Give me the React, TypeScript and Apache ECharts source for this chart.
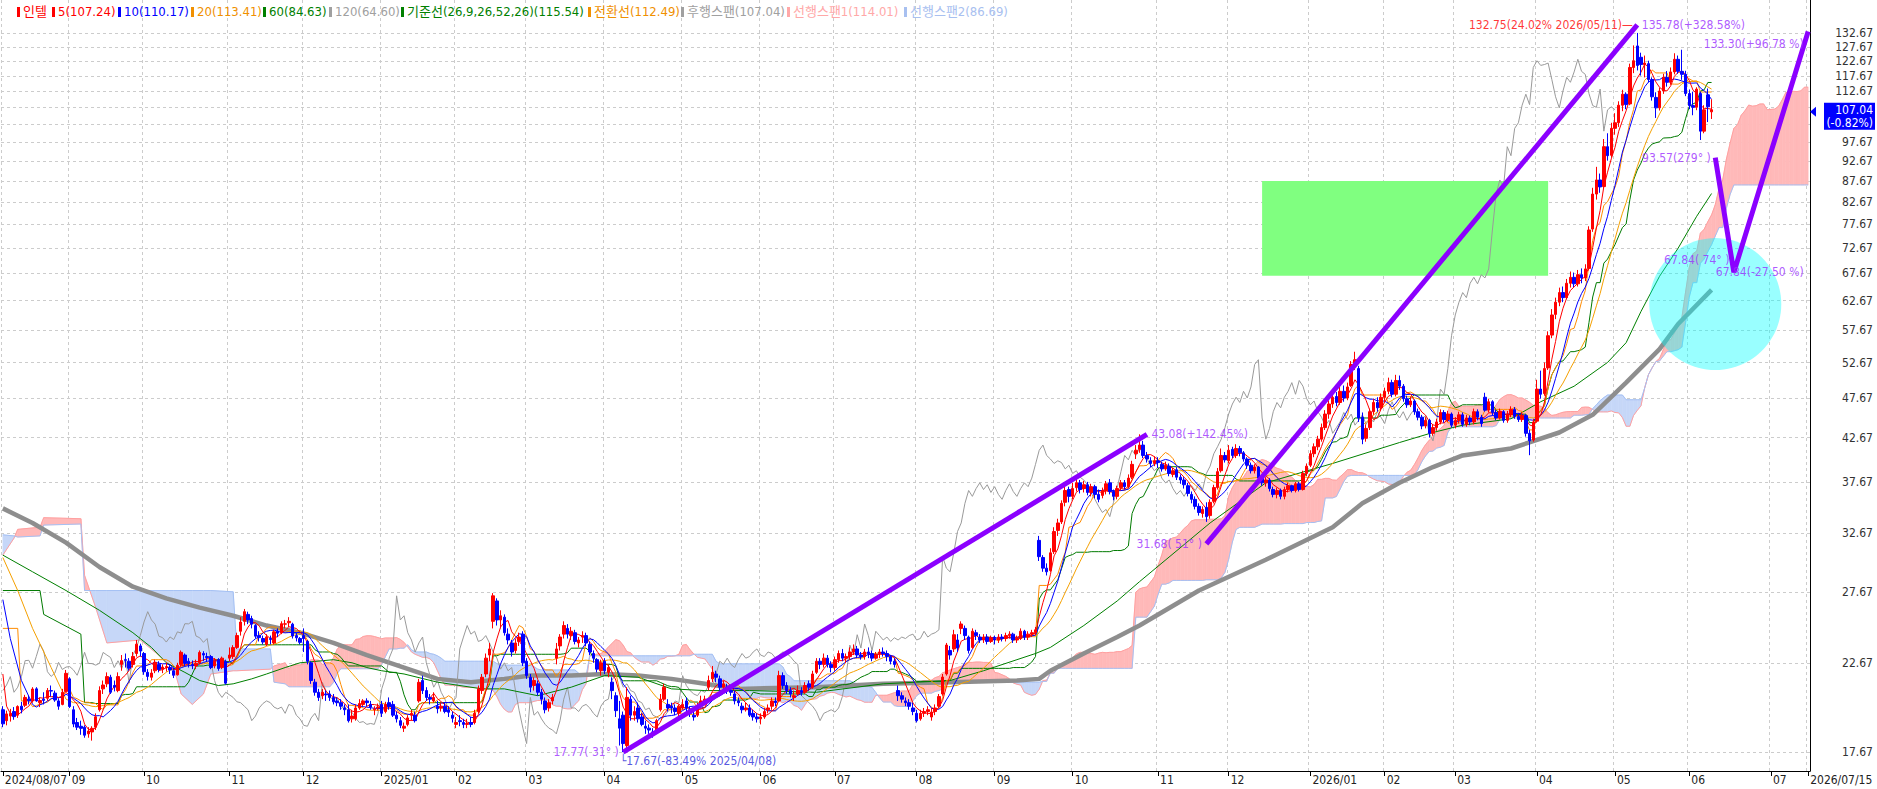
import React, { useEffect, useRef } from 'react';
import * as echarts from 'echarts';

const FONT = "'Liberation Sans Narrow', 'DejaVu Sans Condensed', 'Noto Sans CJK KR', sans-serif";

// ---------- axis / calendar ----------
const firstDate = '2024/08/07';
const lastDataDate = '2026/06/09';
const lastAxisDate = '2026/07/15';
const marketHolidays = [
  '2024/09/02', '2024/11/28', '2024/12/25', '2025/01/01', '2025/01/09', '2025/01/20', '2025/02/17',
  '2025/04/18', '2025/05/26', '2025/06/19', '2025/07/04', '2025/09/01', '2025/11/27', '2025/12/25',
  '2026/01/01', '2026/01/19', '2026/02/16', '2026/04/03', '2026/05/25',
];
// grid lines at every tick; 102.67 and 107.67 sit under the price tag, so they carry no label
const yGridValues = [17.67, 22.67, 27.67, 32.67, 37.67, 42.67, 47.67, 52.67, 57.67, 62.67, 67.67, 72.67,
  77.67, 82.67, 87.67, 92.67, 97.67, 102.67, 107.67, 112.67, 117.67, 122.67, 127.67, 132.67];
const yLabelValues = [17.67, 22.67, 27.67, 32.67, 37.67, 42.67, 47.67, 52.67, 57.67, 62.67, 67.67, 72.67,
  77.67, 82.67, 87.67, 92.67, 97.67, 112.67, 117.67, 122.67, 127.67, 132.67];

// ---------- daily candles [open, close, low, high] ----------
const aug24 = [[19.90,19.13,18.95,20.10],[19.30,19.67,19.05,19.85],[19.55,19.70,19.25,19.95],[19.80,19.52,19.35,20.05],[19.60,20.08,19.45,20.15],[20.10,19.90,19.70,20.35],[20.15,20.60,20.05,20.75],[20.50,20.41,20.20,20.70],[20.40,21.09,20.30,21.20],[21.10,20.40,20.35,21.20],[20.30,20.42,20.05,20.60],[20.50,20.43,20.20,20.90],[20.55,21.00,20.40,21.15],[21.00,20.97,20.65,21.30],[20.85,20.45,20.35,21.00],[20.40,20.10,19.90,20.55],[20.20,20.90,20.15,21.10],[20.95,22.04,20.90,22.25]];
const sep24 = [[21.70,20.08,20.00,21.80],[19.90,19.12,18.95,20.10],[19.20,18.95,18.80,19.45],[19.00,18.89,18.55,19.30],[18.95,18.53,18.40,19.05],[18.60,18.75,18.40,18.95],[18.70,18.89,18.25,19.00],[18.95,19.51,18.80,19.70],[19.90,21.00,19.80,21.25],[21.10,21.33,20.80,21.60],[21.40,21.84,21.20,22.10],[21.80,20.90,20.80,21.95],[21.30,21.20,20.95,21.60],[21.00,21.84,20.90,22.10],[22.60,22.84,22.20,23.20],[22.90,22.86,22.40,23.30],[22.80,22.36,22.20,23.00],[22.60,23.11,22.40,23.40],[23.30,23.92,23.10,24.20],[23.80,23.46,23.10,23.95]];
const oct24 = [[23.30,22.14,21.95,23.40],[22.10,21.85,21.60,22.30],[21.80,22.06,21.60,22.30],[22.20,22.73,22.05,22.90],[22.60,22.28,22.10,22.80],[22.30,22.43,22.05,22.60],[22.40,22.46,22.15,22.70],[22.40,22.25,22.00,22.55],[22.20,21.92,21.75,22.40],[21.95,22.54,21.90,22.70],[22.60,23.38,22.50,23.50],[23.20,22.66,22.50,23.30],[22.80,22.65,22.40,23.00],[22.60,22.55,22.30,22.85],[22.50,22.67,22.30,22.90],[22.70,23.37,22.60,23.50],[23.30,23.20,22.80,23.45],[23.10,23.04,22.80,23.35],[23.10,22.40,22.30,23.20],[22.50,22.83,22.35,23.00],[22.90,22.34,22.20,23.00],[22.40,23.00,22.30,23.10],[22.80,21.44,21.35,22.90]];
const nov24 = [[23.00,23.20,22.80,23.70],[23.10,23.69,22.95,23.85],[23.70,24.50,23.60,24.70],[24.80,25.45,24.50,25.80],[25.50,26.20,25.20,26.40],[26.00,25.60,25.30,26.20],[25.70,25.30,25.00,25.90],[25.20,24.46,24.30,25.30],[24.50,24.36,24.10,24.80],[24.30,24.06,23.90,24.50],[23.90,24.41,23.80,24.60],[24.30,24.23,23.90,24.50],[24.00,24.76,23.90,24.90],[24.80,24.67,24.40,25.00],[24.70,25.33,24.60,25.50],[25.30,25.32,25.00,25.60],[25.40,25.50,25.10,25.80],[25.30,24.47,24.30,25.40],[24.50,24.35,24.10,24.70],[24.30,24.04,23.90,24.40]];
const dec24 = [[24.50,24.30,23.40,25.00],[24.10,22.80,22.60,24.20],[22.70,21.60,21.40,22.80],[21.50,20.90,20.70,21.70],[20.90,20.60,20.40,21.10],[20.70,20.90,20.50,21.10],[20.80,20.75,20.40,21.00],[20.80,20.60,20.40,21.00],[20.60,20.35,20.20,20.80],[20.40,20.30,20.10,20.60],[20.30,20.10,19.90,20.50],[20.00,19.90,19.60,20.20],[19.90,19.30,19.20,20.20],[19.40,19.55,19.20,19.90],[19.40,20.00,19.30,20.20],[20.00,20.25,19.90,20.50],[20.20,20.40,20.10,20.50],[20.40,20.30,20.10,20.55],[20.20,20.05,19.90,20.40],[19.90,19.95,19.60,20.10],[20.00,20.05,19.85,20.25]];
const jan25 = [[20.20,19.70,19.50,20.40],[19.80,20.20,19.70,20.35],[20.30,20.10,19.90,20.60],[20.20,19.60,19.50,20.40],[19.60,19.40,19.20,19.80],[19.30,19.05,18.90,19.50],[18.90,19.00,18.70,19.20],[19.10,19.45,19.00,19.60],[19.60,19.70,19.30,19.90],[19.60,19.30,19.20,19.80],[20.40,21.49,20.30,21.70],[21.60,21.00,20.80,21.90],[21.00,20.60,20.40,21.20],[20.60,20.50,20.20,20.80],[20.40,20.60,20.30,20.90],[20.10,19.96,19.70,20.40],[20.00,20.10,19.80,20.30],[20.10,19.80,19.70,20.30],[19.90,19.76,19.50,20.10],[19.60,19.43,19.20,19.80]];
const feb25 = [[19.10,19.20,18.90,19.50],[19.30,19.25,19.00,19.60],[19.20,19.10,18.90,19.40],[19.10,19.15,18.90,19.40],[19.20,19.10,18.95,19.50],[19.20,19.70,19.10,19.90],[19.80,21.10,19.70,21.30],[21.00,21.80,20.80,22.00],[22.00,23.00,21.80,23.30],[23.20,23.60,22.80,24.00],[25.50,27.39,25.00,27.60],[27.00,25.60,25.20,27.20],[25.60,25.90,25.00,26.30],[25.80,24.70,24.50,26.00],[24.60,24.20,23.90,25.00],[24.00,23.40,23.10,24.20],[23.50,24.00,23.30,24.30],[24.10,24.40,23.80,24.70],[24.60,22.70,22.50,24.80]];
const mar25 = [[22.80,21.90,21.70,23.00],[21.80,21.20,20.90,22.00],[21.30,21.60,21.00,21.80],[21.40,20.90,20.70,21.60],[20.90,20.50,20.20,21.10],[20.40,19.90,19.70,20.60],[20.00,20.30,19.80,20.50],[20.40,20.60,20.20,20.80],[23.00,23.60,22.60,24.00],[23.80,24.40,23.50,24.60],[24.60,25.20,24.30,25.50],[25.00,24.60,24.30,25.30],[24.50,24.80,24.20,25.10],[24.70,24.10,23.90,24.90],[24.00,24.20,23.70,24.40],[24.40,24.50,24.00,24.80],[24.50,24.00,23.80,24.70],[23.90,23.40,23.20,24.10],[23.30,23.00,22.70,23.50],[22.90,22.30,22.10,23.00],[22.20,22.70,21.90,22.90]];
const apr25 = [[22.80,22.20,22.00,23.00],[22.10,22.40,21.80,22.60],[21.50,21.00,20.50,21.80],[20.70,19.85,19.50,20.90],[19.40,18.90,18.00,20.40],[19.60,18.10,17.67,19.80],[18.00,20.60,17.80,21.20],[20.50,19.60,19.30,20.70],[19.60,19.80,19.30,20.10],[20.00,19.40,19.20,20.30],[19.50,19.10,19.00,19.70],[19.00,18.90,18.60,19.30],[18.90,18.80,18.60,19.10],[18.70,18.60,18.40,18.90],[18.70,19.30,18.60,19.40],[19.90,20.50,19.80,20.80],[20.50,21.20,20.40,21.40],[20.20,20.00,19.80,20.50],[20.10,20.00,19.70,20.30],[20.00,19.80,19.60,20.20],[19.70,20.10,19.50,20.20]];
const may25 = [[20.00,20.20,19.90,20.50],[20.40,20.00,19.80,20.60],[19.90,19.70,19.50,20.10],[19.60,19.50,19.30,19.80],[19.60,20.10,19.50,20.30],[20.20,20.40,20.00,20.70],[20.40,20.50,20.20,20.70],[21.20,21.60,21.00,21.90],[21.70,22.10,21.50,22.50],[22.00,21.80,21.50,22.20],[21.70,21.20,21.00,21.90],[21.20,21.40,21.00,21.60],[21.20,21.00,20.80,21.40],[21.00,20.90,20.70,21.20],[20.80,20.40,20.20,21.00],[20.40,20.30,20.10,20.60],[20.10,19.90,19.70,20.30],[19.90,20.00,19.80,20.30],[20.00,19.60,19.50,20.20],[19.70,19.50,19.30,19.90],[19.50,19.40,19.20,19.70]];
const jun25 = [[19.40,19.50,19.10,19.70],[19.50,19.80,19.40,20.00],[19.90,20.00,19.70,20.20],[20.10,20.40,19.90,20.60],[20.40,20.30,20.10,20.60],[20.40,21.90,20.40,22.20],[21.90,21.30,21.10,22.10],[21.30,21.00,20.80,21.50],[21.00,20.80,20.60,21.20],[20.60,20.70,20.40,21.00],[20.80,21.00,20.70,21.30],[21.00,20.90,20.70,21.20],[20.90,21.30,20.80,21.50],[21.40,21.20,21.00,21.60],[21.20,22.00,21.10,22.20],[22.10,22.80,22.00,23.00],[22.80,22.60,22.30,23.00],[22.60,23.00,22.40,23.30],[23.00,22.60,22.40,23.20],[22.60,22.40,22.10,22.80]];
const jul25 = [[22.40,22.90,22.20,23.10],[22.90,23.30,22.70,23.50],[23.30,23.00,22.80,23.60],[23.00,23.10,22.70,23.30],[23.10,23.40,22.90,23.70],[23.40,23.60,23.20,23.90],[23.60,23.20,23.00,23.80],[23.20,23.10,22.90,23.40],[23.10,23.40,22.90,23.60],[23.40,23.30,23.00,23.70],[23.30,23.00,22.80,23.50],[23.00,23.20,22.90,23.40],[23.30,23.40,23.00,23.60],[23.40,23.30,23.10,23.70],[23.30,23.10,22.80,23.50],[23.10,22.80,22.60,23.20],[22.80,22.60,22.40,23.00],[21.00,20.70,20.40,21.30],[20.70,20.50,20.30,20.90],[20.40,20.30,20.10,20.60],[20.30,20.10,19.90,20.50],[20.00,19.80,19.60,20.30]];
const aug25 = [[19.70,19.30,19.20,19.90],[19.40,19.70,19.30,19.90],[19.70,19.80,19.50,20.00],[19.80,19.90,19.60,20.10],[19.50,19.77,19.30,20.00],[19.80,20.00,19.60,20.20],[20.10,20.65,20.00,20.80],[20.80,21.81,20.70,22.00],[22.00,23.86,21.90,24.00],[23.50,23.20,22.90,23.80],[23.60,24.56,23.40,24.90],[24.20,23.66,23.40,24.60],[25.00,25.31,24.60,25.50],[25.00,24.50,24.20,25.20],[24.40,23.50,23.30,24.50],[23.70,24.80,23.60,25.00],[24.70,24.50,24.20,24.90],[24.40,24.20,24.00,24.60],[24.20,24.40,24.00,24.60],[24.40,24.10,23.90,24.60],[24.10,24.35,24.00,24.50]];
const sep25 = [[24.30,24.20,23.90,24.50],[24.20,24.40,24.00,24.60],[24.40,24.30,24.10,24.60],[24.30,24.50,24.10,24.70],[24.50,24.60,24.30,24.80],[24.60,24.20,24.00,24.70],[24.20,24.30,24.00,24.50],[24.30,24.80,24.20,25.00],[24.80,24.40,24.20,24.90],[24.40,24.60,24.20,24.80],[24.60,24.70,24.40,24.90],[24.70,24.90,24.50,25.10],[32.00,30.57,30.20,32.40],[30.50,29.60,29.30,30.70],[29.60,29.30,29.00,30.00],[29.40,30.90,29.30,31.30],[31.00,32.80,30.80,33.20],[32.90,33.60,32.40,34.00],[33.70,35.50,33.50,35.80],[35.60,36.80,35.20,37.40],[36.90,36.20,35.60,37.20]];
const oct25 = [[36.20,37.00,35.90,37.60],[37.10,37.60,36.70,38.00],[37.60,36.90,36.50,37.90],[37.00,37.40,36.60,37.80],[37.40,36.60,36.30,37.70],[36.60,37.20,36.20,37.50],[37.20,36.40,36.00,37.40],[36.40,35.90,35.60,36.90],[36.30,36.80,36.00,37.10],[36.80,37.50,36.40,37.80],[37.60,36.70,36.40,38.00],[36.70,36.20,35.80,36.90],[36.20,37.00,35.90,37.30],[37.10,37.60,36.80,37.90],[37.60,37.20,36.90,37.90],[37.20,38.10,37.00,38.50],[38.20,39.60,38.00,40.00],[40.80,41.20,40.20,41.80],[41.30,41.80,40.90,43.08],[41.80,40.60,40.30,42.30],[40.60,40.20,39.80,41.00],[40.00,39.70,39.30,40.40],[39.70,40.00,39.40,40.50]];
const nov25 = [[40.00,39.80,39.20,40.40],[39.60,39.10,38.80,39.90],[39.10,39.50,38.90,39.90],[39.40,38.60,38.30,39.70],[38.50,38.90,38.20,39.20],[39.00,38.20,37.90,39.30],[38.20,37.90,37.50,38.50],[37.90,37.40,37.00,38.20],[37.30,36.50,36.20,37.60],[36.40,35.90,35.50,36.70],[35.90,35.20,34.90,36.20],[35.20,34.60,34.30,35.50],[34.50,34.90,34.10,35.20],[35.10,34.20,33.70,35.60],[34.30,35.60,34.00,35.90],[35.70,37.10,35.50,37.40],[37.10,38.80,36.90,39.20],[38.90,40.60,38.70,41.40],[40.60,40.10,39.80,41.00]];
const dec25 = [[40.00,41.20,39.70,41.80],[41.30,40.60,40.30,41.60],[40.60,41.40,40.30,41.90],[41.40,40.90,40.50,41.70],[40.90,40.20,39.90,41.10],[40.20,39.50,39.10,40.40],[39.50,38.90,38.60,39.80],[38.90,39.30,38.60,39.60],[39.30,38.10,37.80,39.40],[38.10,37.60,37.30,38.40],[37.60,37.90,37.20,38.20],[37.90,37.00,36.70,38.10],[36.90,36.40,36.10,37.20],[36.40,36.80,36.00,37.10],[36.80,36.20,35.90,37.00],[36.20,36.90,35.90,37.20],[36.90,37.30,36.60,37.60],[37.30,36.80,36.60,37.40],[36.80,37.50,36.60,37.70],[37.50,36.90,36.70,37.70],[36.90,38.60,36.80,38.90],[38.60,39.40,38.30,39.70]];
const jan26 = [[39.50,40.80,39.30,41.20],[40.80,41.60,40.40,42.00],[41.60,42.50,41.20,42.90],[42.50,43.90,42.20,44.40],[43.90,45.60,43.60,46.10],[45.60,46.90,45.00,47.40],[46.90,47.80,46.40,48.40],[47.90,47.10,46.60,48.50],[47.10,48.60,46.80,49.20],[48.60,47.70,47.20,49.40],[47.70,49.20,47.40,49.80],[49.40,52.40,49.20,52.90],[52.40,53.10,51.60,54.30],[51.80,45.10,44.60,52.20],[45.20,42.50,41.90,45.80],[42.60,43.80,42.20,44.30],[43.90,45.90,43.60,46.30],[45.90,47.10,45.50,47.60],[47.10,46.40,45.90,47.80],[46.40,47.80,46.10,48.30]];
const feb26 = [[47.80,48.60,47.20,49.10],[48.60,49.80,48.20,50.50],[49.80,48.20,47.80,50.20],[48.20,50.10,47.90,50.90],[50.10,49.30,48.80,50.80],[49.30,47.60,47.20,49.60],[47.60,46.80,46.40,48.00],[46.80,47.30,46.50,47.90],[47.30,45.90,45.50,47.50],[45.90,45.20,44.80,46.30],[45.20,44.10,43.70,45.50],[44.10,44.80,43.80,45.20],[44.80,43.20,42.70,45.00],[43.20,43.90,42.90,44.30],[43.90,44.60,43.50,45.00],[44.60,45.80,44.30,46.20],[45.80,44.90,44.50,46.10],[44.90,45.60,44.60,46.00],[45.60,44.20,43.90,45.80]];
const mar26 = [[44.20,44.80,43.80,45.20],[44.80,45.50,44.40,45.90],[45.50,44.30,44.00,45.80],[44.30,45.10,44.00,45.50],[45.10,44.60,44.20,45.40],[44.60,45.90,44.30,46.30],[45.90,45.20,44.80,46.20],[45.20,44.40,44.00,45.50],[47.80,46.10,45.90,48.40],[46.10,47.20,45.80,47.60],[47.20,45.80,45.40,47.40],[45.80,45.10,44.80,46.20],[45.10,45.90,44.90,46.30],[45.90,44.80,44.50,46.10],[44.80,45.60,44.50,46.00],[45.60,46.20,45.20,46.60],[46.20,45.30,45.00,46.50],[45.30,44.90,44.60,45.70],[44.90,45.40,44.60,45.80],[45.40,43.20,42.80,45.60],[43.20,42.30,40.63,43.60],[42.40,44.60,42.20,45.00]];
const apr26 = [[44.70,48.90,44.50,50.20],[48.90,48.20,47.60,51.50],[48.30,51.80,48.00,52.70],[51.90,56.80,51.60,57.50],[56.90,60.20,56.40,61.20],[60.30,62.40,59.50,63.20],[62.40,64.10,61.70,65.00],[64.10,63.20,62.40,65.20],[63.20,65.80,62.90,66.60],[65.80,66.90,65.00,68.00],[66.90,65.70,65.10,67.80],[65.70,67.40,65.20,68.30],[67.40,66.80,65.80,68.60],[66.80,68.50,66.20,69.40],[68.60,76.40,68.20,77.20],[76.60,84.50,76.00,86.00],[84.50,87.90,83.20,91.20],[87.90,86.20,84.80,89.50],[86.30,96.50,86.00,98.60],[96.50,94.10,92.80,100.20],[94.20,101.60,93.60,103.20]];
const may26 = [[101.60,103.20,99.80,106.00],[103.20,108.40,102.00,109.60],[108.40,111.80,106.60,113.20],[111.80,108.60,107.20,112.40],[108.80,120.50,108.40,121.80],[120.50,122.80,118.60,128.20],[128.00,121.20,119.50,132.75],[124.00,121.50,117.80,125.60],[121.50,122.00,117.20,124.60],[121.80,116.50,115.60,122.80],[116.50,111.00,109.80,117.20],[110.80,107.60,104.60,112.40],[107.60,112.80,106.80,113.90],[112.80,117.20,111.90,118.40],[117.20,115.60,114.20,119.30],[115.60,119.00,114.80,120.50],[119.00,123.30,118.20,125.40],[123.30,119.20,118.40,124.60],[119.20,118.20,116.40,126.65],[118.20,112.00,111.20,119.40]];
const jun26 = [[112.00,108.30,107.20,113.30],[108.30,107.76,105.40,112.60],[107.80,113.40,106.90,114.00],[112.00,100.80,98.33,112.60],[100.80,107.00,100.20,108.40],[111.60,107.93,103.40,113.60],[106.40,107.04,104.30,110.20]];

// ---------- slow lines: [day index, value] ----------
const ma120Read = [[0,35.0],[8,33.6],[17,31.8],[26,29.7],[35,28.1],[44,27.2],[53,26.5],[62,25.9],[71,25.2],[80,24.7],[89,24.0],[98,23.2],[108,22.4],[117,21.7],[126,21.5],[135,21.7],[142,21.9],[153,21.9],[162,22.0],[171,21.9],[180,21.7],[189,21.4],[198,21.1],[219,21.2],[237,21.4],[255,21.5],[273,21.6],[279,21.7],[282,22.2],[291,23.3],[300,24.4],[306,25.2],[322,27.8],[340,30.3],[358,33.2],[366,35.5],[376,37.6],[385,39.3],[393,40.6],[406,41.4],[419,43.3],[428,45.5],[437,49.8],[446,54.7],[451,58.7],[460,64.60]];
const ma60Read = [[0,30.7],[8,29.3],[17,27.8],[26,26.3],[35,24.7],[40,23.7],[44,22.7],[49,22.1],[53,21.6],[58,21.3],[62,21.4],[67,21.7],[71,22.0],[76,22.4],[80,22.7],[89,22.9],[94,22.7],[98,22.4],[102,22.2],[108,22.0],[117,21.5],[129,21.1],[135,21.1],[144,20.7],[153,21.2],[162,21.9],[171,21.8],[180,21.1],[189,21.0],[201,21.0],[219,20.9],[237,21.4],[246,21.5],[255,21.6],[264,22.2],[273,22.9],[278,23.3],[282,23.7],[291,25.2],[300,27.0],[306,28.5],[325,33.6],[340,37.6],[358,39.7],[376,42.1],[385,43.3],[393,44.2],[406,45.0],[414,47.2],[423,49.3],[432,52.7],[437,55.7],[441,60.8],[446,67.1],[451,72.6],[456,79.4],[460,84.63]];
// lead-in parts (before enough candles exist in the window)
const ma5Lead = [[0,22.0],[1,20.1],[2,19.7],[3,19.6]];
const ma10Lead = [[0,27.1],[2,24.3],[5,21.6],[8,20.2]];
const ma20Lead = [[0,30.5],[4,27.8],[8,25.0],[13,22.4],[17,20.5]];
const tenkanLead = [[0,25.0],[4,25.0],[5,20.4],[7,20.4]];
const kijunLead = [[0,27.8],[10,27.8],[11,26.0],[21,24.6],[22,20.3],[24,20.3]];
// early cloud [day index, 선행스팬1, 선행스팬2]
const cloudEarly = [[0,30.7,32.5],[3,32.2,32.4],[4,33.0,32.3],[10,33.2,32.4],[11,34.1,33.4],[21,34.0,33.5],[22,29.0,27.8],[25,26.5,27.8],[28,24.0,27.8],[37,24.2,27.8],[46,22.4,27.8],[48,20.8,27.8],[51,20.2,27.8],[54,20.8,27.8],[56,22.0,27.8],[62,22.2,27.7],[63,22.2,23.6],[72,22.3,23.6],[73,22.5,21.5],[76,22.7,21.4]];

// ---------- annotations ----------
const trendA = [['2025/04/08', 17.67], ['2025/10/29', 43.08]];
const trendB = [['2025/11/20', 31.68], ['2026/05/11', 135.78]];
const trendC = [['2026/06/10', 93.57], ['2026/06/17', 67.84], ['2026/07/15', 133.30]];
const greenBox = [['2025/12/12', 87.67], ['2026/04/07', 67.2]];
const cyanCircle = ['2026/06/10', 62.06];
const lastClose = 107.04;
const lastChange = '(-0.82%)';

const PURPLE = '#8B00FF';
const PTXT = '#9A2EFF';
const annotations: any[] = [
  { at: ['2025/04/08', 17.67], text: '17.77( 31° )', color: PTXT, pos: 'left' },
  { at: ['2025/04/08', 17.67], text: '└17.67(-83.49% 2025/04/08)', color: '#2B2BD8', pos: [-3, 3] },
  { at: ['2025/10/29', 43.08], text: '43.08(+142.45%)', color: PTXT, pos: 'right' },
  { at: ['2025/11/20', 31.68], text: '31.68( 51° )', color: PTXT, pos: 'left' },
  { at: ['2026/05/11', 135.78], text: '132.75(24.02% 2026/05/11)—', color: '#FF0000', pos: 'left' },
  { at: ['2026/05/11', 135.78], text: '135.78(+328.58%)', color: PTXT, pos: 'right' },
  { at: ['2026/07/15', 133.30], text: '133.30(+96.78 %)', color: PTXT, pos: 'left', offset: [0, 13] },
  { at: ['2026/06/10', 93.57], text: '93.57(279° )', color: PTXT, pos: 'left' },
  { at: ['2026/06/17', 67.84], text: '67.84( 74° )', color: PTXT, pos: 'left', offset: [0, -12] },
  { at: ['2026/07/15', 67.84], text: '67.84(-27.50 %)', color: PTXT, pos: 'left' },
];
const legendItems = [
  { x: 17, text: '인텔', color: '#FF0000' },
  { x: 52, text: '5(107.24)', color: '#FF0000' },
  { x: 118, text: '10(110.17)', color: '#0000FF' },
  { x: 191, text: '20(113.41)', color: '#F09000' },
  { x: 263, text: '60(84.63)', color: '#008000' },
  { x: 329, text: '120(64.60)', color: '#A0A0A0' },
  { x: 401, text: '기준선(26,9,26,52,26)(115.54)', color: '#008000' },
  { x: 588, text: '전환선(112.49)', color: '#F09000' },
  { x: 681, text: '후행스팬(107.04)', color: '#A0A0A0' },
  { x: 787, text: '선행스팬1(114.01)', color: '#FFA8A8' },
  { x: 904, text: '선행스팬2(86.69)', color: '#A8C0F0' },
];

// ---------- derived ----------
const pad = (n: number) => String(n).padStart(2, '0');
const parseD = (s: string) => { const [y, m, d] = s.split('/').map(Number); return Date.UTC(y, m - 1, d); };
const fmtD = (t: number) => { const d = new Date(t); return `${d.getUTCFullYear()}/${pad(d.getUTCMonth() + 1)}/${pad(d.getUTCDate())}`; };

function buildDates(): string[] {
  const hol = new Set(marketHolidays);
  const out: string[] = [];
  const end = parseD(lastAxisDate);
  const lastData = parseD(lastDataDate);
  for (let t = parseD(firstDate); t <= end; t += 86400000) {
    const wd = new Date(t).getUTCDay();
    const s = fmtD(t);
    if (wd === 0 || wd === 6) continue;
    if (t <= lastData && hol.has(s)) continue;
    out.push(s);
  }
  return out;
}

const dates = buildDates();
const candles = [...aug24, ...sep24, ...oct24, ...nov24, ...dec24, ...jan25, ...feb25, ...mar25, ...apr25, ...may25,
  ...jun25, ...jul25, ...aug25, ...sep25, ...oct25, ...nov25, ...dec25, ...jan26, ...feb26, ...mar26, ...apr26, ...may26, ...jun26];
const closes = candles.map((c) => c[1]);

function sma(n: number, lead: number[][]) {
  const out = lead.map((p) => [p[0], p[1]]);
  for (let i = n - 1; i < closes.length; i++) {
    let s = 0;
    for (let k = i - n + 1; k <= i; k++) s += closes[k];
    out.push([i, +(s / n).toFixed(3)]);
  }
  return out;
}
function mid(i: number, n: number) {
  let hi = -Infinity, lo = Infinity;
  for (let k = i - n + 1; k <= i; k++) { hi = Math.max(hi, candles[k][3]); lo = Math.min(lo, candles[k][2]); }
  return (hi + lo) / 2;
}
const tenkanLine = [...tenkanLead];
for (let i = 8; i < candles.length; i++) tenkanLine.push([i, mid(i, 9)]);
const kijunLine = [...kijunLead];
for (let i = 25; i < candles.length; i++) kijunLine.push([i, mid(i, 26)]);
const cloudRows: number[][] = cloudEarly.map((r) => [...r]);
for (let j = 77; j < dates.length; j++) {
  const i = j - 26;
  if (i >= candles.length) break;
  cloudRows.push([j, (mid(i, 9) + mid(i, 26)) / 2, mid(i, 52)]);
}
const chikou: number[][] = [];
for (let i = 26; i < closes.length; i++) chikou.push([i - 26, closes[i]]);

const isTick = (idx: number) =>
  idx === 0 || idx === dates.length - 1 || (idx > 0 && dates[idx].slice(5, 7) !== dates[idx - 1].slice(5, 7));
const xLabel = (v: string, idx: number) => {
  if (idx === 0 || idx === dates.length - 1) return v;
  const m = v.slice(5, 7);
  return m === '01' ? v.slice(0, 7) : m;
};

const PINK = '#FFB9B9';
const BLUE = '#C6D7F8';
function renderCloud(params: any, api: any) {
  const i = params.dataIndex;
  if (i >= cloudRows.length - 1) return null;
  const r0 = cloudRows[i], r1 = cloudRows[i + 1];
  const a0 = api.coord([r0[0], r0[1]]), b0 = api.coord([r0[0], r0[2]]);
  const a1 = api.coord([r1[0], r1[1]]), b1 = api.coord([r1[0], r1[2]]);
  const d0 = b0[1] - a0[1], d1 = b1[1] - a1[1];
  const poly = (pts: number[][], fill: string) => ({ type: 'polygon', shape: { points: pts }, style: { fill, stroke: fill, lineWidth: 0.6 }, silent: true });
  if (d0 * d1 >= 0) return poly([a0, a1, b1, b0], d0 + d1 >= 0 ? PINK : BLUE);
  const t = d0 / (d0 - d1);
  const m = [a0[0] + (a1[0] - a0[0]) * t, a0[1] + (a1[1] - a0[1]) * t];
  return { type: 'group', children: [poly([a0, m, b0], d0 > 0 ? PINK : BLUE), poly([m, a1, b1], d1 > 0 ? PINK : BLUE)] };
}

const line = (data: any[], color: string, width: number, z: number, extra: any = {}) => ({
  type: 'line', data, showSymbol: false, symbol: 'none', silent: true, z,
  lineStyle: { color, width }, ...extra,
});

function buildOption(): any {
  return {
    animation: false,
    backgroundColor: '#FFFFFF',
    grid: { left: 1, right: 67, top: 0, bottom: 18, containLabel: false, outerBoundsMode: 'none' },
    xAxis: {
      type: 'category', data: dates, boundaryGap: true,
      axisLine: { show: true, lineStyle: { color: '#000', width: 1 } },
      axisTick: { show: true, interval: isTick, alignWithLabel: true, length: 5, lineStyle: { color: '#000' } },
      axisLabel: { interval: isTick, formatter: xLabel, showMinLabel: true, showMaxLabel: true, hideOverlap: false,
        align: 'left', margin: 3, padding: [0, 0, 0, 2], color: '#222', fontSize: 12, fontFamily: FONT },
      splitLine: { show: true, interval: isTick, lineStyle: { color: '#CCCCCC', type: [3, 3], width: 1 } },
    },
    yAxis: {
      type: 'log', logBase: 10, position: 'right', min: 16.76, max: 145.6,
      axisLine: { show: true, lineStyle: { color: '#000', width: 1 } },
      axisTick: { show: false, customValues: yGridValues },
      axisLabel: { customValues: yLabelValues, formatter: (v: number) => v.toFixed(2), align: 'right', margin: 63, color: '#333', fontSize: 12, fontFamily: FONT },
      splitLine: { show: true, lineStyle: { color: '#CCCCCC', type: [3, 3], width: 1 } },
    },
    series: [
      { type: 'custom', renderItem: renderCloud, data: cloudRows, encode: { x: 0, y: [1, 2] }, z: 1, silent: true },
      line(cloudRows.map((r) => [r[0], r[1]]), '#FFA0A0', 1, 2, {
        markArea: { silent: true, itemStyle: { color: '#80FF80' },
          data: [[{ xAxis: greenBox[0][0], yAxis: greenBox[0][1] }, { xAxis: greenBox[1][0], yAxis: greenBox[1][1] }]] },
      }),
      line(cloudRows.map((r) => [r[0], r[2]]), '#A4C0F4', 1, 2),
      line(ma120Read, '#8E8E8E', 4.5, 3),
      line(chikou, '#9A9A9A', 1, 3),
      line(ma60Read, '#008000', 1, 4),
      line(kijunLine, '#007A00', 1, 4),
      line(tenkanLine, '#FF8C00', 1, 4),
      line(sma(20, ma20Lead), '#F5A000', 1, 4),
      line(sma(10, ma10Lead), '#0000FF', 1, 4),
      line(sma(5, ma5Lead), '#FF0000', 1, 4),
      {
        type: 'candlestick', data: candles, z: 5, silent: true, barWidth: 3,
        itemStyle: { color: '#FF0000', color0: '#0000FF', borderColor: '#FF0000', borderColor0: '#0000FF', borderWidth: 1 },
      },
      { type: 'scatter', data: [cyanCircle], symbolSize: 132, z: 6, silent: true, itemStyle: { color: 'rgba(0,255,255,0.5)' } },
      line(trendA, PURPLE, 5, 7),
      line(trendB, PURPLE, 5, 7),
      line(trendC, PURPLE, 5, 7),
      {
        type: 'scatter', z: 8, symbolSize: 1, silent: true, itemStyle: { color: 'rgba(0,0,0,0)' },
        data: annotations.map((a) => ({
          value: a.at,
          label: { show: true, formatter: a.text, position: a.pos, distance: 4, offset: a.offset || [0, 0],
            color: a.color, fontSize: 12, fontFamily: FONT },
        })),
      },
    ],
  };
}

function buildGraphic(py: number): any[] {
  const els: any[] = [];
  legendItems.forEach((it) => {
    els.push({ type: 'rect', shape: { x: it.x, y: 7, width: 3, height: 10 }, style: { fill: it.color }, z: 100 });
    els.push({ type: 'text', x: it.x + 6, y: 11, z: 100, style: { text: it.text, fill: it.color, fontSize: 13, fontFamily: FONT, verticalAlign: 'middle' } });
  });
  els.push({ type: 'rect', shape: { x: 1824, y: py - 7, width: 51, height: 27 }, style: { fill: '#0000FF' }, z: 100 });
  els.push({ type: 'text', x: 1873, y: py - 6, z: 101, style: { text: lastClose.toFixed(2) + '\n' + lastChange, fill: '#FFFFFF', align: 'right', fontSize: 12, lineHeight: 13, fontFamily: FONT } });
  els.push({ type: 'polygon', shape: { points: [[1810, py + 2], [1816, py - 3], [1816, py + 7]] }, style: { fill: '#0000FF' }, z: 100 });
  return els;
}

export default function App() {
  const ref = useRef<HTMLDivElement>(null);
  useEffect(() => {
    const chart = echarts.init(ref.current!, null, { renderer: 'svg' });
    chart.setOption(buildOption());
    const py = chart.convertToPixel({ yAxisIndex: 0 } as any, lastClose) as unknown as number;
    chart.setOption({ graphic: buildGraphic(typeof py === 'number' && isFinite(py) ? py : 110) });
    return () => chart.dispose();
  }, []);
  return <div ref={ref} style={{ position: 'fixed', left: 0, top: 0, width: 1877, height: 789, background: '#fff' }} />;
}
